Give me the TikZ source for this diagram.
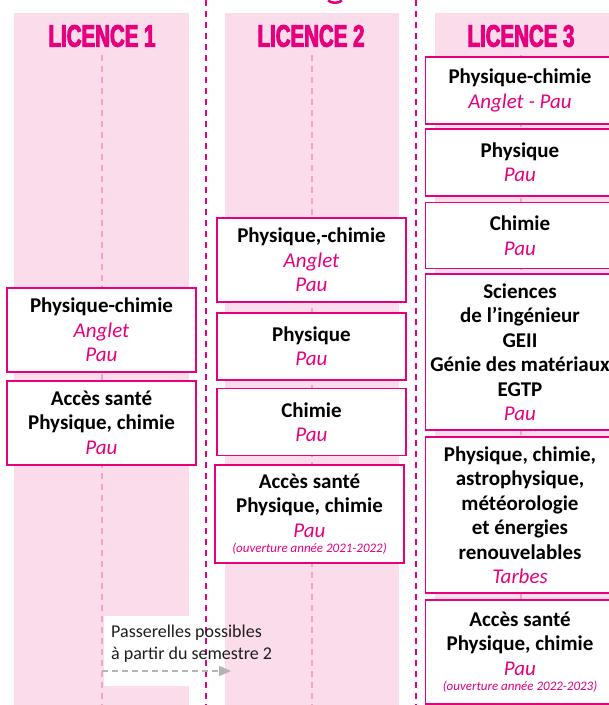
\documentclass[tikz,border=0pt]{standalone}
\usepackage{fontspec}
\setmainfont{Carlito}
\newfontfamily\headfont[FakeStretch=0.66,FakeBold=3]{Liberation Sans}
\usepackage{xcolor}
\usepackage{tikz}
\usetikzlibrary{arrows.meta, positioning}

\definecolor{licmag}{HTML}{E6007E}
\definecolor{licpink}{HTML}{FADCEA}
\definecolor{licdash}{HTML}{F2A3C7}
\definecolor{passgray}{HTML}{B3B3B3}
\definecolor{passtext}{HTML}{1E1E1E}

\newcommand{\lieu}[1]{{\color{licmag}\mdseries\itshape #1}}
\newcommand{\annee}[1]{{\color{licmag}\mdseries\itshape\fontsize{13}{14}\selectfont #1}}

\begin{document}
\begin{tikzpicture}[
    x=1pt, y=-1pt,
    colbg/.style={fill=licpink, draw=none},
    sepline/.style={licmag, line width=2pt, dash pattern=on 6pt off 5pt},
    midline/.style={licdash, line width=1.2pt, dash pattern=on 6pt off 5pt},
    head/.style={text=licmag, font=\headfont\bfseries\fontsize{31}{31}\selectfont, inner sep=0pt},
    box/.style={rectangle, draw=licmag, line width=1.8pt, fill=white, minimum width=189pt, text width=188pt, align=flush center, inner sep=0pt, font=\bfseries\fontsize{21}{24.5}\selectfont},
    passarrow/.style={passgray, line width=2pt, dash pattern=on 6pt off 4pt, -{Triangle[length=12pt, width=10pt]}}
]
    \useasboundingbox (0,0) rectangle (609,705);

    % Columns
    \fill[colbg] (14,13) rectangle (189,705);
    \fill[colbg] (225,13) rectangle (399,705);
    \fill[colbg] (435,13) rectangle (615,705);

    \draw[sepline] (206,0) -- (206,705);
    \draw[sepline] (416,0) -- (416,705);
    \draw[licmag, line width=2.5pt] (328,0.5) .. controls (331,3.5) and (339,3.5) .. (342,0.5);

    \draw[midline] (102,55) -- (102,705);
    \draw[midline] (312,55) -- (312,705);
    \draw[midline] (521,55) -- (521,705);

    % Headers
    \node (h1) [head] at (102,36) {LICENCE 1};
    \node (h2) [head] at (311,36) {LICENCE 2};
    \node (h3) [head] at (521,36) {LICENCE 3};

    % Licence 1
    \node (l1pc) [box, minimum height=84pt, anchor=north] at (101.5,287) {Physique-chimie\\ \lieu{Anglet}\\ \lieu{Pau}};
    \node (l1sante) [box, minimum height=84pt, below=7pt of l1pc] {Accès santé\\ Physique, chimie\\ \lieu{Pau}};

    % Licence 2
    \node (l2pc) [box, minimum height=84pt, anchor=north] at (311.5,217) {Physique,-chimie\\ \lieu{Anglet}\\ \lieu{Pau}};
    \node (l2phys) [box, minimum height=67pt, below=9pt of l2pc] {Physique\\ \lieu{Pau}};
    \node (l2chim) [box, minimum height=67pt, below=7pt of l2phys] {Chimie\\ \lieu{Pau}};
    \node (l2sante) [box, minimum height=98pt, below=8pt of l2chim, xshift=-2pt] {Accès santé\\ Physique, chimie\\ \lieu{Pau}\\[-9pt] \annee{(ouverture année 2021-2022)}};

    % Licence 3
    \node (l3pc) [box, minimum height=67pt, anchor=north] at (520,56) {Physique-chimie\\ \lieu{Anglet - Pau}};
    \node (l3phys) [box, minimum height=67pt, below=3pt of l3pc] {Physique\\ \lieu{Pau}};
    \node (l3chim) [box, minimum height=66pt, below=5pt of l3phys] {Chimie\\ \lieu{Pau}};
    \node (l3si) [box, minimum height=156pt, below=4pt of l3chim] {Sciences\\ de l’ingénieur\\ GEII\\ Génie des matériaux\\ EGTP\\ \lieu{Pau}};
    \node (l3astro) [box, minimum height=156pt, below=5pt of l3si] {Physique, chimie,\\ astrophysique,\\ météorologie\\ et énergies\\ renouvelables\\ \lieu{Tarbes}};
    \node (l3sante) [box, minimum height=104pt, below=5pt of l3astro] {Accès santé\\ Physique, chimie\\ \lieu{Pau}\\[-9pt] \annee{(ouverture année 2022-2023)}};

    % Passerelles
    \fill[white] (104,616) rectangle (189,686);
    \node (passe) [anchor=west, align=left, text=passtext, inner sep=0pt, font=\fontsize{18}{22}\selectfont] at (111,644) {Passerelles possibles\\ à partir du semestre 2};
    \coordinate (pstart) at (102,671);
    \coordinate (pend) at (231,671);
    \draw[passarrow] (pstart) -- (pend);

\end{tikzpicture}
\end{document}
